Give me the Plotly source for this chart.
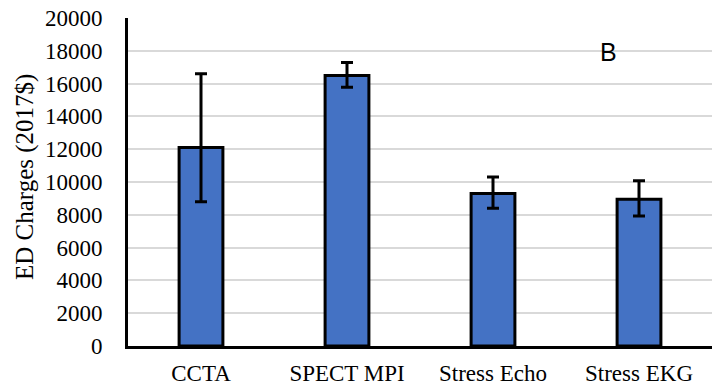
import plotly.graph_objects as go

categories = ["CCTA", "SPECT MPI", "Stress Echo", "Stress EKG"]
charges = [12100, 16500, 9300, 8950]
err_plus = [4500, 780, 1000, 1130]
err_minus = [3300, 720, 900, 1020]
y_ticks = list(range(0, 20001, 2000))

fig = go.Figure()
fig.add_trace(go.Bar(
    x=categories, y=charges, width=0.3,
    marker=dict(color="#4472C4", line=dict(color="black", width=3)),
    error_y=dict(type="data", symmetric=False, array=err_plus, arrayminus=err_minus,
                 color="black", thickness=3, width=6),
))
fig.add_annotation(text="B", x=(610 - 128) / (712 - 128), y=(346 - 50) / (346 - 18),
                   xref="paper", yref="paper", xshift=9, yshift=14,
                   showarrow=False, font=dict(family="Liberation Sans", size=25, color="black"))
fig.add_annotation(text="ED Charges (2017$)", textangle=-90, x=0, y=0.5,
                   xref="paper", yref="paper", xanchor="center", yanchor="middle",
                   xshift=-103, yshift=5, showarrow=False,
                   font=dict(family="Liberation Serif", size=25, color="black"))
fig.update_layout(
    width=713, height=386,
    margin=dict(l=128, r=1, t=18, b=40, autoexpand=False),
    plot_bgcolor="white", paper_bgcolor="white",
    showlegend=False,
    font=dict(family="Liberation Serif", size=23, color="black"),
    xaxis=dict(showline=True, linecolor="black", linewidth=3, ticks="",
               ticklabelstandoff=4, showgrid=False, automargin=False),
    yaxis=dict(range=[0, 20000], tickvals=y_ticks, tickformat="d", showline=True,
               linecolor="black", linewidth=3,
               showgrid=True, gridcolor="#d9d9d9", gridwidth=1.5, zeroline=False,
               ticklabelstandoff=18, automargin=False),
)
fig.write_html("out.html", config={"displayModeBar": False},
               post_script="document.body.style.margin='0';document.body.style.overflow='hidden';")
